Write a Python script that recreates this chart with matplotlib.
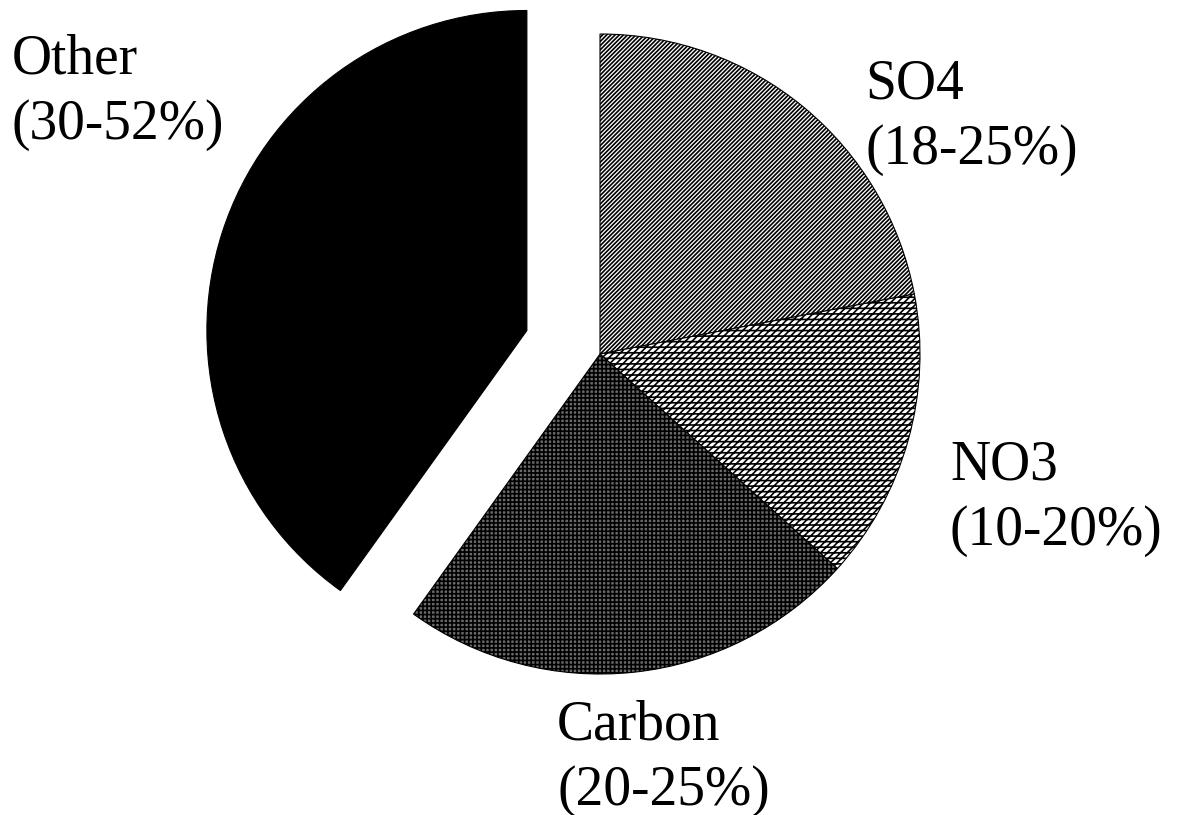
import matplotlib
matplotlib.use('Agg')
import matplotlib.pyplot as plt

# slice shares (percent of circle), clockwise from 12 o'clock
names = ["SO4", "NO3", "Carbon", "Other"]
ranges = ["18-25%", "10-20%", "20-25%", "30-52%"]
shares = [22.0, 14.7, 23.2, 40.1]
explode = [0, 0, 0, 0.24]   # fraction of the radius

W, H = 1179, 815
R = 320
plt.rcParams['font.family'] = ['Liberation Serif', 'DejaVu Serif']
plt.rcParams['hatch.linewidth'] = 1.2

fig = plt.figure(figsize=(W / 100, H / 100), dpi=100)
ax = fig.add_axes([0, 0, 1, 1])

# pie's explode is in data units, so scale it by the radius
wedges, _ = ax.pie(shares, explode=[e * R for e in explode], startangle=90,
                   counterclock=False, center=(600, H - 354), radius=R,
                   colors=['#ffffff', '#ffffff', '#6a6a6a', '#000000'],
                   hatch=['////////', '/////---', '++++', ''],
                   wedgeprops=dict(edgecolor='black', linewidth=0.8))

# label anchors: (left x, vertical centre y) in image pixels
label_pos = [(865, 117), (950, 498), (557, 758), (12, 92)]
for name, rng, (x, y) in zip(names, ranges, label_pos):
    ax.text(x, H - y, "{}\n({})".format(name, rng), fontsize=40,
            ha='left', va='center', linespacing=1.33)

ax.set_xlim(0, W)
ax.set_ylim(0, H)
ax.set_aspect('equal')
ax.axis('off')
fig.savefig('out.png', dpi=100)
